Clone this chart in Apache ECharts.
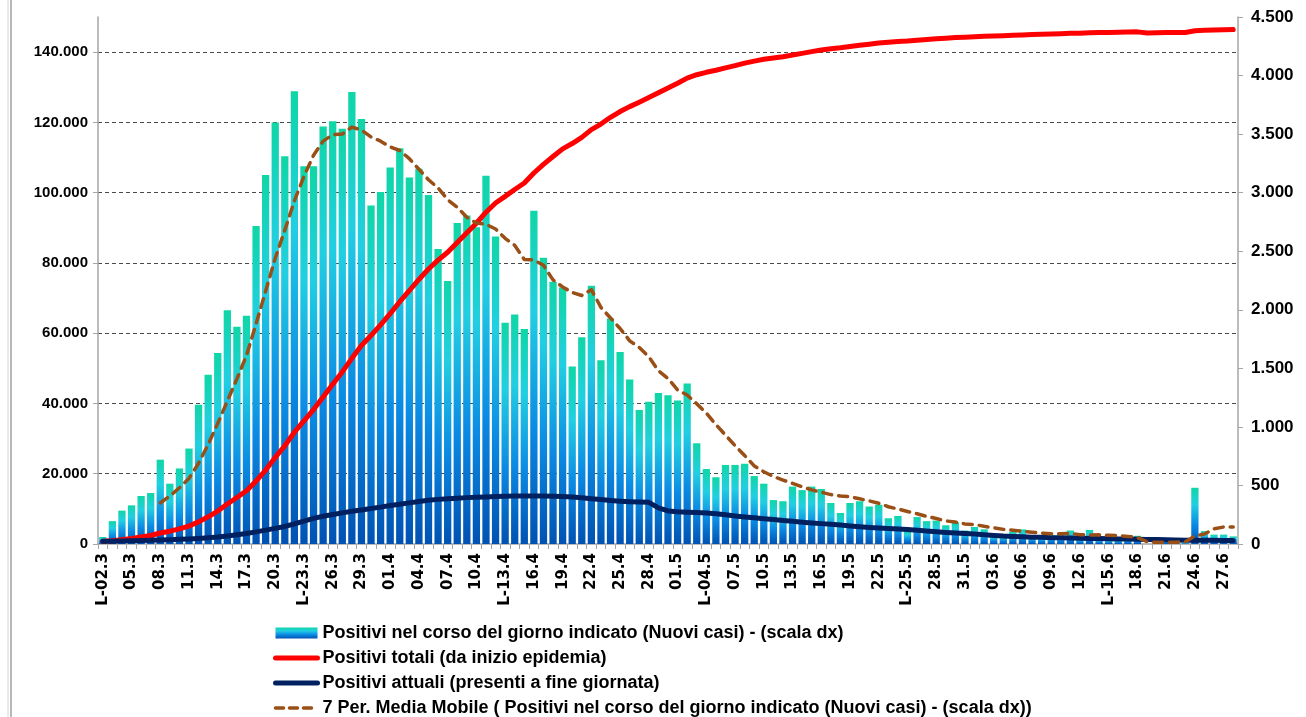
<!DOCTYPE html>
<html>
<head>
<meta charset="utf-8">
<title>Positivi</title>
<script src="https://cdn.jsdelivr.net/npm/echarts@6/dist/echarts.min.js"></script>
<style>
  html, body { margin: 0; padding: 0; background: #fff; }
  #chart { width: 1306px; height: 717px; }
</style>
</head>
<body>
<div id="chart"></div>
<script>
// giorni dal 02.3 al 28.6 (lunedi con prefisso "L-")
const N_DAYS = 119;
const days = [];
for (let i = 0; i < N_DAYS; i++) {
  const d = new Date(2020, 2, 2 + i);
  const lab = String(d.getDate()).padStart(2, '0') + '.' + (d.getMonth() + 1);
  days.push(d.getDay() === 1 ? 'L-' + lab : lab);
}

// nuovi casi (scala dx)
const nuoviCasi = [
  60, 195, 285, 330, 410, 435, 720, 515, 645, 815,
  1190, 1445, 1630, 1995, 1855, 1950, 2715, 3150, 3600, 3310,
  3865, 3225, 3225, 3565, 3610, 3545, 3860, 3630, 2890, 3005,
  3215, 3380, 3130, 3205, 2980, 2520, 2245, 2740, 2805, 2705,
  3145, 2625, 1890, 1960, 1835, 2845, 2445, 2240, 2190, 1515,
  1765, 2205, 1570, 1925, 1640, 1405, 1145, 1215, 1290, 1270,
  1225, 1370, 860, 640, 570, 675, 675, 685, 580, 515,
  375, 365, 490, 460, 490, 470, 350, 265, 350, 365,
  320, 335, 220, 240, 110, 230, 195, 200, 160, 185,
  115, 145, 125, 80, 80, 105, 125, 75, 75, 75,
  90, 115, 55, 120, 50, 40, 40, 55, 70, -300,
  45, 45, 35, 10, 480, 110, 80, 80, 65
];

// positivi totali (scala sx)
const positiviTotali = [
  760, 955, 1240, 1570, 1980, 2415, 3135, 3650, 4295, 5110,
  6300, 7745, 9375, 11370, 13225, 15175, 17890, 21040, 24640, 27950,
  31815, 35040, 38265, 41830, 45440, 48985, 52845, 56475, 59365, 62370,
  65585, 68965, 72095, 75300, 78280, 80800, 83045, 85785, 88590, 91295,
  94440, 97065, 98955, 100915, 102750, 105595, 108040, 110280, 112470, 113985,
  115750, 117955, 119525, 121450, 123090, 124495, 125740, 127055, 128445, 129815,
  131140, 132610, 133570, 134260, 134830, 135505, 136180, 136865, 137445, 137960,
  138335, 138700, 139190, 139650, 140140, 140610, 140960, 141225, 141575, 141940,
  142260, 142595, 142815, 143055, 143165, 143395, 143590, 143790, 143950, 144135,
  144250, 144395, 144520, 144600, 144680, 144785, 144910, 144985, 145060, 145135,
  145225, 145340, 145395, 145515, 145565, 145605, 145645, 145700, 145770, 145470,
  145515, 145560, 145595, 145605, 146085, 146195, 146275, 146355, 146420
];

// positivi attuali (scala sx)
const positiviAttuali = [
  750, 800, 850, 900, 980, 1060, 1150, 1240, 1330, 1430,
  1560, 1750, 1980, 2300, 2650, 3000, 3450, 3950, 4450, 5000,
  5700, 6500, 7300, 7900, 8400, 8850, 9300, 9700, 10100, 10500,
  10950, 11300, 11700, 12100, 12450, 12700, 12900, 13050, 13200, 13300,
  13400, 13500, 13600, 13650, 13650, 13650, 13650, 13600, 13550, 13400,
  13150, 12900, 12650, 12400, 12200, 12050, 11950, 11850, 10300, 9400,
  9150, 9050, 8950, 8850, 8600, 8300, 8000, 7700, 7450, 7200,
  6950, 6700, 6450, 6200, 6000, 5800, 5600, 5400, 5150, 4900,
  4700, 4550, 4400, 4250, 4100, 3900, 3700, 3500, 3300, 3150,
  3000, 2850, 2650, 2450, 2250, 2150, 2050, 1950, 1900, 1800,
  1750, 1700, 1650, 1600, 1550, 1500, 1450, 1400, 1350, 1300,
  1250, 1200, 1150, 1100, 1100, 1050, 1050, 1000, 1000
];

// media mobile 7 periodi (scala dx)
const mediaMobile = [
  '-', '-', '-', '-', '-', '-', 350, 410, 480, 560,
  690, 850, 1030, 1220, 1410, 1610, 1880, 2160, 2440, 2680,
  2930, 3140, 3320, 3440, 3495, 3500, 3560, 3535, 3475, 3440,
  3390, 3360, 3290, 3200, 3110, 3040, 2940, 2875, 2790, 2740,
  2730, 2690, 2610, 2550, 2430, 2425, 2380, 2255, 2195, 2148,
  2122, 2172, 2020, 1930, 1840, 1735, 1678, 1598, 1480, 1413,
  1316, 1272, 1198, 1118, 1020, 930, 840, 755, 667, 617,
  576, 546, 518, 489, 462, 442, 422, 410, 403, 386,
  368, 348, 318, 299, 278, 258, 236, 218, 197, 187,
  171, 166, 151, 138, 125, 117, 108, 101, 93, 88,
  88, 90, 80, 76, 78, 74, 71, 65, 55, 20,
  14, 14, 16, 18, 68, 85, 130, 145, 145
];

const S_NUOVI = 'Positivi nel corso del giorno indicato (Nuovi casi) - (scala dx)';
const S_TOT = 'Positivi totali (da inizio epidemia)';
const S_ATT = 'Positivi attuali (presenti a fine giornata)';
const S_MM = '7 Per. Media Mobile ( Positivi nel corso del giorno indicato (Nuovi casi) - (scala dx))';

// separatore migliaia con il punto
function fmt(v) {
  return String(v).replace(/\B(?=(\d{3})+(?!\d))/g, '.');
}

const axisGray = '#a6a6a6';
const labelFont = { color: '#000', fontWeight: 'bold', fontFamily: 'Liberation Sans' };
// nella legenda le linee senza pallino
const noDot = { opacity: 0 };

let myChart = echarts.init(document.getElementById('chart'));
myChart.setOption({
  animation: false,
  backgroundColor: '#fff',
  grid: { left: 98, right: 68, top: 17, bottom: 173 },
  graphic: [
    // bordo del foglio a sinistra
    { type: 'line', shape: { x1: 8, y1: 0, x2: 8, y2: 717 }, style: { stroke: '#d4d4d4', lineWidth: 1 } },
    { type: 'line', shape: { x1: 11, y1: 0, x2: 11, y2: 717 }, style: { stroke: '#b8b8b8', lineWidth: 2 } }
  ],
  legend: {
    orient: 'vertical',
    left: 268,
    top: 619,
    height: 120,
    itemWidth: 42,
    itemHeight: 11,
    itemGap: 7,
    textStyle: { color: '#000', fontSize: 18, fontWeight: 'bold', fontFamily: 'Liberation Sans', lineHeight: 18 },
    data: [
      { name: S_NUOVI, icon: 'rect' },
      { name: S_TOT, itemStyle: noDot, lineStyle: { width: 5, color: '#ff0000' } },
      { name: S_ATT, itemStyle: noDot, lineStyle: { width: 5, color: '#002060' } },
      { name: S_MM, itemStyle: noDot, lineStyle: { width: 3.5, color: '#9a4f16', type: [8, 6] } }
    ]
  },
  xAxis: {
    type: 'category',
    data: days,
    boundaryGap: true,
    axisLine: { lineStyle: { color: axisGray, width: 1.5 } },
    axisTick: { show: true, interval: 0, length: 5, lineStyle: { color: axisGray } },
    axisLabel: {
      interval: 2,
      rotate: 90,
      margin: 9,
      color: '#000',
      fontWeight: 'bold',
      fontFamily: 'DejaVu Sans',
      fontSize: 15
    }
  },
  yAxis: [
    {
      type: 'value',
      position: 'left',
      min: 0,
      max: 150000,
      interval: 20000,
      axisLine: { show: true, lineStyle: { color: axisGray, width: 1.5 } },
      axisTick: { show: true, length: 5, lineStyle: { color: axisGray } },
      axisLabel: Object.assign({ formatter: fmt, showMaxLabel: false, margin: 10, fontSize: 15 }, labelFont),
      splitLine: { show: true, showMaxLine: false, showMinLine: false, lineStyle: { color: '#4a4a4a', type: [4, 3], width: 1 } }
    },
    {
      type: 'value',
      position: 'right',
      min: 0,
      max: 4500,
      interval: 500,
      axisLine: { show: true, lineStyle: { color: axisGray, width: 1.5 } },
      axisTick: { show: true, length: 5, lineStyle: { color: axisGray } },
      axisLabel: Object.assign({ formatter: fmt, margin: 13, fontSize: 17 }, labelFont),
      splitLine: { show: false }
    }
  ],
  series: [
    {
      name: S_NUOVI,
      type: 'bar',
      yAxisIndex: 1,
      data: nuoviCasi,
      barCategoryGap: '24%',
      itemStyle: {
        color: new echarts.graphic.LinearGradient(0, 0, 0, 1, [
          { offset: 0, color: '#0fd6a6' },
          { offset: 0.3, color: '#22cfe2' },
          { offset: 0.65, color: '#0b8be4' },
          { offset: 1, color: '#0052b2' }
        ])
      }
    },
    {
      name: S_TOT,
      type: 'line',
      yAxisIndex: 0,
      data: positiviTotali,
      symbol: 'none',
      itemStyle: { color: '#ff0000' },
      lineStyle: { color: '#ff0000', width: 5, cap: 'round', join: 'round' }
    },
    {
      name: S_ATT,
      type: 'line',
      yAxisIndex: 0,
      data: positiviAttuali,
      symbol: 'none',
      itemStyle: { color: '#002060' },
      lineStyle: { color: '#002060', width: 5, cap: 'round', join: 'round' }
    },
    {
      name: S_MM,
      type: 'line',
      yAxisIndex: 1,
      data: mediaMobile,
      symbol: 'none',
      itemStyle: { color: '#9a4f16' },
      lineStyle: { color: '#9a4f16', width: 3.5, type: [9, 7], cap: 'round', join: 'round' }
    }
  ]
});
</script>
</body>
</html>
